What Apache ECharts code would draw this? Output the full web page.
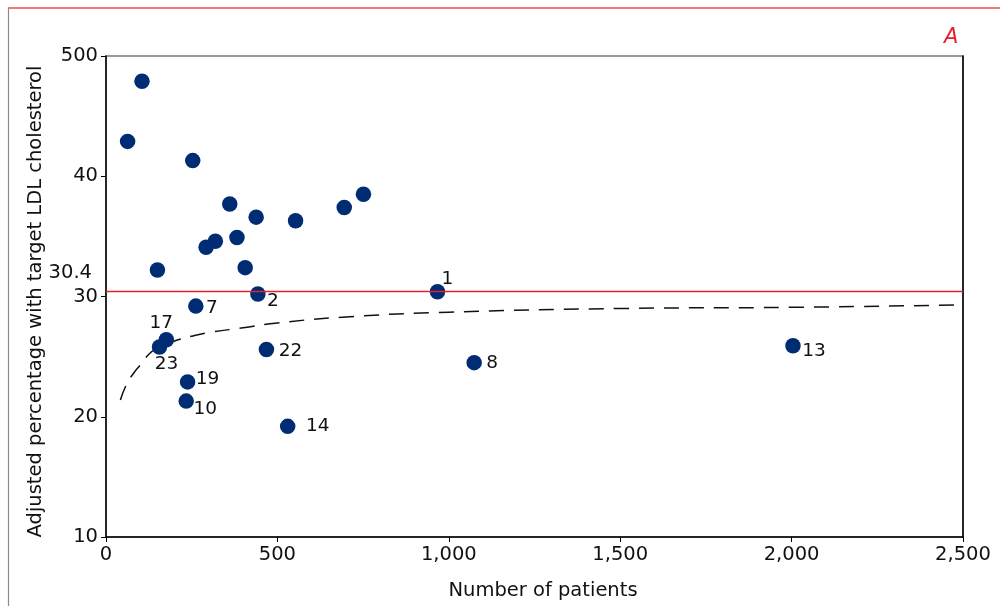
<!DOCTYPE html>
<html>
<head>
<meta charset="utf-8">
<title>Adjusted percentage with target LDL cholesterol by number of patients</title>
<script src="https://cdn.jsdelivr.net/npm/echarts@6/dist/echarts.min.js"></script>
<style>
  html, body { margin: 0; padding: 0; background: #fff; }
  #chart { width: 1000px; height: 606px; }
</style>
</head>
<body>
<div id="chart"></div>
<script>
// Practices: number of patients and adjusted percentage reaching target LDL cholesterol
const patients = [63, 105, 253, 361, 438, 553, 695, 751, 382, 319, 292, 406, 150,
                  443, 967, 262, 176, 156, 468, 238, 234, 530, 1074, 2004];
const adjustedPct = [42.9, 47.9, 41.3, 37.7, 36.6, 36.3, 37.4, 38.5, 34.9, 34.6, 34.1, 32.4, 32.2,
                     30.2, 30.4, 29.2, 26.4, 25.8, 25.6, 22.9, 21.3, 19.2, 24.5, 25.9];
const pointIds = ['', '', '', '', '', '', '', '', '', '', '', '', '',
                  '2', '1', '7', '17', '23', '22', '19', '10', '14', '8', '13'];

// Overall mean (reference line)
const overallMean = 30.4;

// Lower control limit curve
const limitPatients = [42, 60, 80, 100, 125, 150, 200, 250, 300, 400, 500, 700, 1000, 1500, 2000, 2500];
const limitPct = [21.4, 22.7, 23.6, 24.3, 25.2, 25.7, 26.3, 26.7, 27.0, 27.4, 27.8, 28.3, 28.7, 29.0, 29.1, 29.3];

// Axis tick labels
const yTickLabels = { 10: '10', 20: '20', 30: '30', 40: '40', 50: '500' };
const xTickLabels = { 0: '0', 500: '500', 1000: '1,000', 1500: '1,500', 2000: '2,000', 2500: '2,500' };

// Where each practice number sits relative to its dot (px)
const idOffsets = {
  '1': [10, -13], '2': [15, 7], '7': [16, 2], '17': [-5, -17], '23': [7, 17],
  '22': [24, 2], '19': [20, -3], '10': [19, 8], '14': [30, 0], '8': [18, 1], '13': [21, 5]
};

const FONT = 'DejaVu Sans';
const TEXT = '#111';
const DOT = '#002c73';
const RED = '#e3202b';

const chart = echarts.init(document.getElementById('chart'), null, { renderer: 'canvas' });

const idLabel = id => ({
  show: true,
  formatter: id,
  position: 'inside',
  offset: idOffsets[id] || [16, 0],
  color: TEXT,
  fontSize: 18.5,
  fontFamily: FONT
});

const scatterData = patients.map((x, i) => {
  const id = pointIds[i];
  return {
    value: [x, adjustedPct[i]],
    label: id ? idLabel(id) : { show: false }
  };
});

chart.setOption({
  animation: false,
  backgroundColor: '#fff',
  textStyle: { fontFamily: FONT },
  grid: {
    left: 106, right: 37, top: 56, bottom: 69,
    show: true, borderColor: '#7a7a7a', borderWidth: 1.5, backgroundColor: 'transparent'
  },
  xAxis: {
    type: 'value', min: 0, max: 2500, interval: 500,
    name: 'Number of patients', nameLocation: 'middle', nameGap: 44,
    nameTextStyle: { fontSize: 19.5, color: TEXT, fontFamily: FONT, padding: [0, 0, 0, 17] },
    axisLine: { show: true, onZero: false, lineStyle: { color: '#000', width: 1.5 } },
    axisTick: { show: true, length: 5, lineStyle: { color: '#000' } },
    axisLabel: {
      fontSize: 19.5, color: TEXT, fontFamily: FONT, margin: 8,
      formatter: v => xTickLabels[v] !== undefined ? xTickLabels[v] : String(v)
    },
    splitLine: { show: false }
  },
  yAxis: [{
    type: 'value', min: 10, max: 50, interval: 10,
    name: 'Adjusted percentage with target LDL cholesterol', nameLocation: 'middle', nameGap: 60,
    nameTextStyle: { fontSize: 19.5, color: TEXT, fontFamily: FONT, padding: [0, 10, 0, 0] },
    axisLine: { show: true, onZero: false, lineStyle: { color: '#000', width: 1.5 } },
    axisTick: { show: true, length: 5, lineStyle: { color: '#000' } },
    axisLabel: {
      fontSize: 19.5, color: TEXT, fontFamily: FONT, margin: 8,
      formatter: v => yTickLabels[v] !== undefined ? yTickLabels[v] : String(v)
    },
    splitLine: { show: false }
  }, {
    type: 'value', min: 10, max: 50, position: 'right',
    axisLine: { show: true, onZero: false, lineStyle: { color: '#000', width: 1.5 } },
    axisTick: { show: false }, axisLabel: { show: false }, splitLine: { show: false }
  }],
  graphic: [
    { type: 'line', shape: { x1: 8, y1: 8, x2: 1000, y2: 8 }, style: { stroke: '#ec4b55', lineWidth: 1.5 }, silent: true },
    { type: 'line', shape: { x1: 8.5, y1: 8, x2: 8.5, y2: 606 }, style: { stroke: '#8a8a8a', lineWidth: 1.2 }, silent: true },
    { type: 'text', left: 944, top: 27, style: { text: 'A', fill: RED, font: 'italic 21px "DejaVu Sans"' }, silent: true }
  ],
  series: [
    {
      type: 'line',
      data: limitPatients.map((x, i) => [x, limitPct[i]]),
      smooth: true,
      showSymbol: false,
      symbol: 'none',
      lineStyle: { color: '#111', width: 1.5, type: [15, 10] },
      z: 2,
      silent: true,
      markLine: {
        silent: true,
        symbol: ['none', 'none'],
        lineStyle: { color: RED, width: 1.3, type: 'solid' },
        label: {
          show: true, position: 'start', distance: 14, offset: [0, -19],
          formatter: p => String(p.value), fontSize: 19.5, color: TEXT, fontFamily: FONT
        },
        data: [{ yAxis: overallMean }]
      }
    },
    {
      type: 'scatter',
      data: scatterData,
      symbol: 'circle',
      symbolSize: 15.5,
      itemStyle: { color: DOT, opacity: 1 },
      z: 3
    }
  ]
});
</script>
</body>
</html>
